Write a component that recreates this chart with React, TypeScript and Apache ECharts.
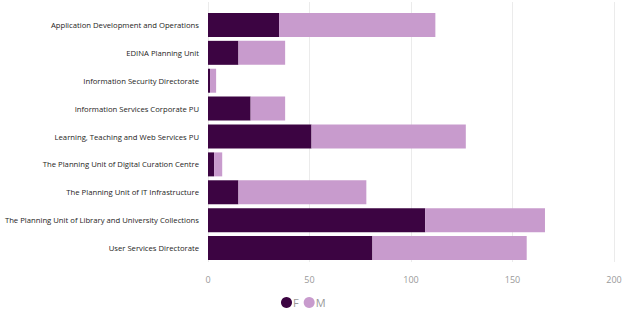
import React, { useEffect, useRef } from "react";
import * as echarts from "echarts";

const categories = [
  "Application Development and Operations",
  "EDINA Planning Unit",
  "Information Security Directorate",
  "Information Services Corporate PU",
  "Learning, Teaching and Web Services PU",
  "The Planning Unit of Digital Curation Centre",
  "The Planning Unit of IT Infrastructure",
  "The Planning Unit of Library and University Collections",
  "User Services Directorate",
];
const femaleValues = [35, 15, 1, 21, 51, 3, 15, 107, 81];
const maleValues = [77, 23, 3, 17, 76, 4, 63, 59, 76];
const xTicks = { min: 0, max: 200, interval: 50 };

const FONT = "'Segoe UI', 'Open Sans', 'Noto Sans', sans-serif";

export default function App() {
  const ref = useRef<HTMLDivElement>(null);
  useEffect(() => {
    if (!ref.current) return;
    const chart = echarts.init(ref.current, undefined, { renderer: "svg" });
    chart.setOption({
      animation: false,
      legend: {
        data: ["F", "M"],
        left: 281,
        top: 297,
        icon: "circle",
        itemWidth: 11,
        itemHeight: 11,
        itemGap: 5,
        padding: 0,
        textStyle: { color: "#999", fontSize: 11, fontFamily: FONT, padding: [0, 0, 0, -4] },
      },
      grid: [
        { left: 208, right: 8, top: 2, bottom: 47, outerBoundsMode: "none", containLabel: false },
        { left: 208, right: 8, top: 11, bottom: 47, outerBoundsMode: "none", containLabel: false },
      ],
      xAxis: [
        {
          type: "value",
          gridIndex: 0,
          ...xTicks,
          axisLine: { show: false },
          axisTick: { show: false },
          axisLabel: { color: "#999", fontSize: 9, fontFamily: FONT, margin: 13 },
          splitLine: { show: true, lineStyle: { color: "#ebebeb", width: 1 } },
        },
        {
          type: "value",
          gridIndex: 1,
          ...xTicks,
          show: false,
          splitLine: { show: false },
        },
      ],
      yAxis: [
        { type: "value", gridIndex: 0, show: false },
        {
          type: "category",
          gridIndex: 1,
          data: categories,
          inverse: true,
          axisLine: { show: false },
          axisTick: { show: false },
          axisLabel: { color: "#252423", fontSize: 7.7, fontFamily: FONT, margin: 9 },
        },
      ],
      series: [
        {
          name: "F",
          type: "bar",
          stack: "total",
          xAxisIndex: 1,
          yAxisIndex: 1,
          data: femaleValues,
          barCategoryGap: "14%",
          itemStyle: { color: "#3c0442" },
        },
        {
          name: "M",
          type: "bar",
          stack: "total",
          xAxisIndex: 1,
          yAxisIndex: 1,
          data: maleValues,
          barCategoryGap: "14%",
          itemStyle: { color: "#c89bcd" },
        },
      ],
    });
    return () => chart.dispose();
  }, []);
  return <div ref={ref} style={{ width: 622, height: 309, position: "absolute", left: 0, top: 0 }} />;
}
